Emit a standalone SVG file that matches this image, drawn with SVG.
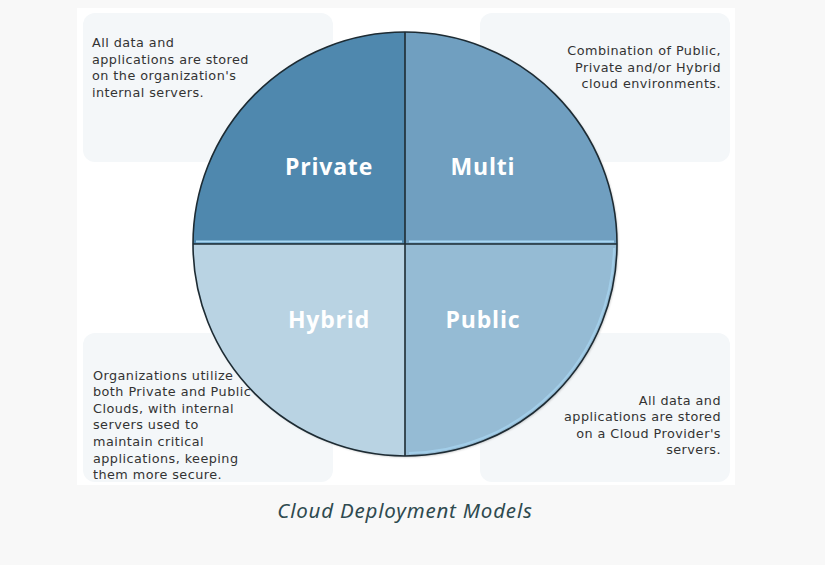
<svg xmlns="http://www.w3.org/2000/svg" width="825" height="565" viewBox="0 0 825 565">
  <style>
    .box { fill: #f4f7f9; }
    .desc { font-family: "DejaVu Sans", "Noto Sans", sans-serif; font-size: 12.8px; letter-spacing: 0.45px; fill: #333333; }
    .lbl { font-family: "Open Sans", "Liberation Sans", sans-serif; font-size: 23px; font-weight: bold; fill: #ffffff; text-anchor: middle; letter-spacing: 0.8px; }
    .edge { fill: none; stroke: #1d2b33; stroke-width: 1.6; }
    .hl { fill: none; stroke: #a8d6f2; stroke-width: 2; }
  </style>
  <defs>
    <filter id="sh" x="-10%" y="-10%" width="120%" height="120%">
      <feDropShadow dx="1" dy="1" stdDeviation="1.2" flood-color="#000" flood-opacity="0.25"/>
    </filter>
  </defs>
  <rect x="0" y="0" width="825" height="565" fill="#f8f8f8"/>
  <rect x="77" y="8" width="658" height="477" fill="#ffffff"/>

  <g id="desc-private">
    <rect class="box" x="83" y="13" width="250" height="149" rx="12"/>
    <text class="desc" x="92" y="47">All data and</text>
    <text class="desc" x="92" y="63.7">applications are stored</text>
    <text class="desc" x="92" y="80.4">on the organization's</text>
    <text class="desc" x="92" y="97.1">internal servers.</text>
  </g>
  <g id="desc-multi">
    <rect class="box" x="480" y="13" width="250" height="149" rx="12"/>
    <text class="desc" x="721" y="55" text-anchor="end">Combination of Public,</text>
    <text class="desc" x="721" y="71.7" text-anchor="end">Private and/or Hybrid</text>
    <text class="desc" x="721" y="88.4" text-anchor="end">cloud environments.</text>
  </g>
  <g id="desc-hybrid">
    <rect class="box" x="83" y="333" width="250" height="149" rx="12"/>
    <text class="desc" x="93" y="379.5">Organizations utilize</text>
    <text class="desc" x="93" y="396.1">both Private and Public</text>
    <text class="desc" x="93" y="412.7">Clouds, with internal</text>
    <text class="desc" x="93" y="429.3">servers used to</text>
    <text class="desc" x="93" y="445.9">maintain critical</text>
    <text class="desc" x="93" y="462.5">applications, keeping</text>
    <text class="desc" x="93" y="479.1">them more secure.</text>
  </g>
  <g id="desc-public">
    <rect class="box" x="480" y="333" width="250" height="149" rx="12"/>
    <text class="desc" x="721" y="404.5" text-anchor="end">All data and</text>
    <text class="desc" x="721" y="421.1" text-anchor="end">applications are stored</text>
    <text class="desc" x="721" y="437.7" text-anchor="end">on a Cloud Provider's</text>
    <text class="desc" x="721" y="454.3" text-anchor="end">servers.</text>
  </g>

  <g id="private">
    <path d="M405,244 L193,244 A212,212 0 0 1 405,32 Z" fill="#4f88ae" filter="url(#sh)"/>
    <line class="hl" x1="196" y1="241.5" x2="402" y2="241.5"/>
    <text class="lbl" x="329" y="175">Private</text>
  </g>
  <g id="multi">
    <path d="M405,244 L405,32 A212,212 0 0 1 617,244 Z" fill="#6f9fc0" filter="url(#sh)"/>
    <line class="hl" x1="409" y1="241.5" x2="614" y2="241.5"/>
    <text class="lbl" x="483" y="175">Multi</text>
  </g>
  <g id="hybrid">
    <path d="M405,244 L405,456 A212,212 0 0 1 193,244 Z" fill="#b9d3e3" filter="url(#sh)"/>
    <text class="lbl" x="329" y="328">Hybrid</text>
  </g>
  <g id="public">
    <path d="M405,244 L617,244 A212,212 0 0 1 405,456 Z" fill="#95bbd4" filter="url(#sh)"/>
    <path class="hl" d="M614,248 A209,209 0 0 1 409,453" stroke-opacity="0.7"/>
    <text class="lbl" x="483" y="328">Public</text>
  </g>

  <g id="connectors">
    <circle class="edge" cx="405" cy="244" r="212"/>
    <line class="edge" x1="405" y1="32" x2="405" y2="456"/>
    <line class="edge" x1="193" y1="244" x2="617" y2="244"/>
  </g>

  <text x="405" y="518" text-anchor="middle" font-family="'Noto Sans', Lato, sans-serif" font-style="italic" font-size="20.5" letter-spacing="0.8" fill="#2f4a4f">Cloud Deployment Models</text>
</svg>
